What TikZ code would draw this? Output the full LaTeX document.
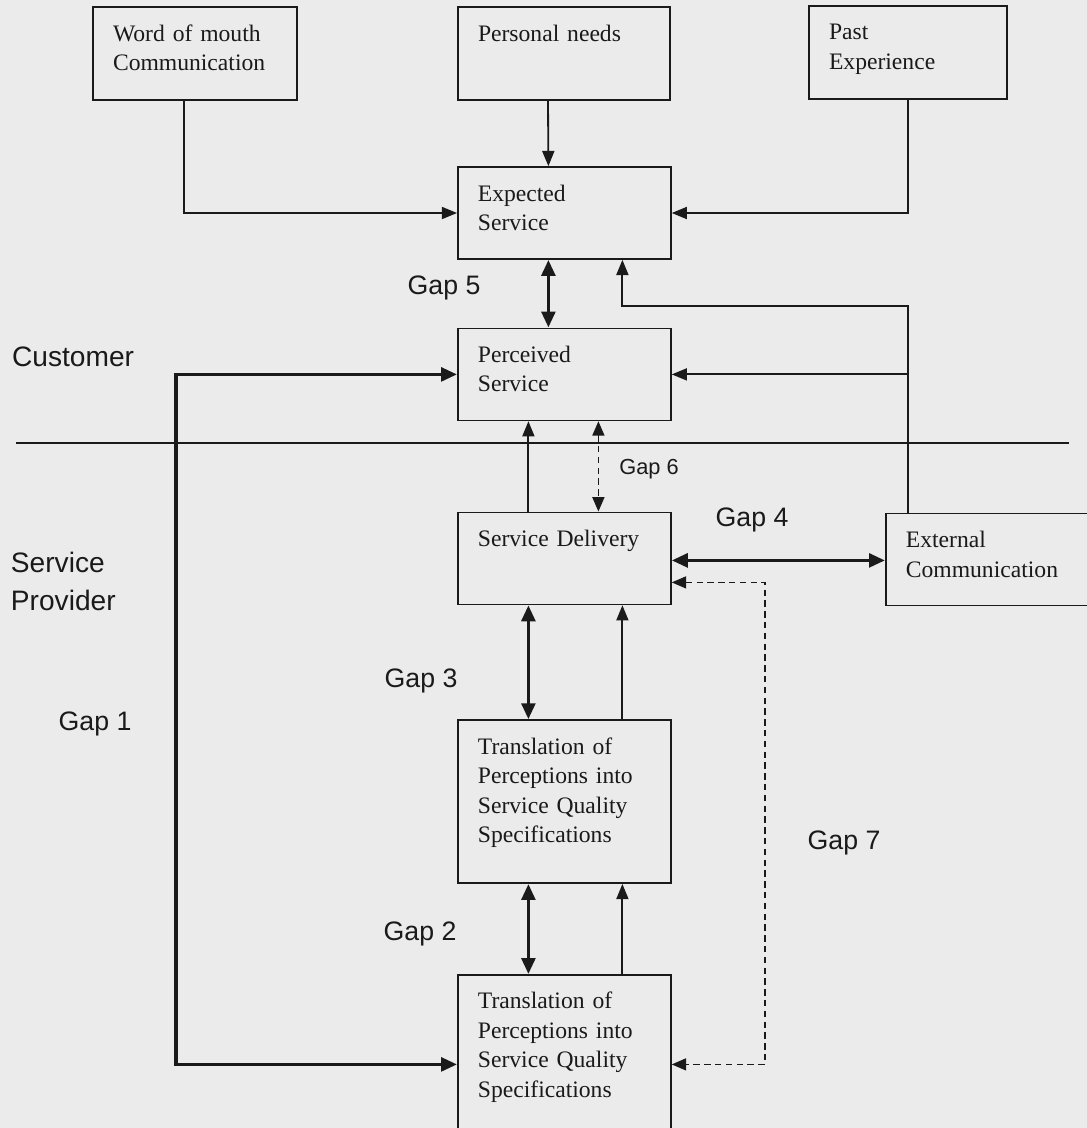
\documentclass[tikz,border=0pt]{standalone}
\usepackage{fontspec}
\setmainfont{Liberation Serif}
\newfontfamily\labelfont{Liberation Sans}
\usetikzlibrary{arrows.meta,calc}
\definecolor{ink}{HTML}{1A1A1A}
\definecolor{paper}{HTML}{EBEBEB}

\begin{document}
\begin{tikzpicture}[font=\fontsize{16.8}{21}\selectfont, text=ink,
  box/.style={draw=ink, line width=1.2pt, align=left, inner xsep=0.5cm, inner ysep=0.3cm, text height=0.55cm, text depth=#1},
  box/.default=1.15cm,
  side/.style={font=\labelfont\fontsize{20}{27}\selectfont, align=left},
  gap/.style={font=\labelfont\fontsize{19}{23}\selectfont},
  flow/.style={-{Triangle[length=0.38cm,width=0.3cm]}, line width=1.3pt, draw=ink},
  gapflow/.style={{Triangle[length=0.4cm,width=0.34cm]}-{Triangle[length=0.4cm,width=0.34cm]}, line width=2.6pt, draw=ink},
  dashflow/.style={{Triangle[length=0.36cm,width=0.3cm]}-{Triangle[length=0.36cm,width=0.3cm]}, line width=1.1pt, draw=ink, dash pattern=on 0.16cm off 0.11cm}]
  \useasboundingbox (0,0) rectangle (27.175,-28.2);
  \fill[paper] (0,0) rectangle (27.175,-28.2);
  % customer side
  \node[box=1.175cm, text width=4.1cm] (wom) at (4.875,-1.34) {Word of mouth\\Communication};
  \node[box=1.175cm, text width=4.3cm] (needs) at (14.1,-1.34) {Personal needs};
  \node[box=1.175cm, text width=3.95cm] (past) at (22.7,-1.31) {Past\\Experience};
  \node[box, text width=4.325cm] (expected) at (14.11,-5.325) {Expected\\Service};
  \node[box, text width=4.325cm] (perceived) at (14.11,-9.36) {Perceived\\Service};
  % provider side
  \node[box, text width=4.325cm] (delivery) at (14.11,-13.96) {Service Delivery};
  \node[box, text width=4.3cm, anchor=west] (external) at (22.125,-13.99) {External\\Communication};
  \node[box=2.925cm, text width=4.325cm] (trans1) at (14.11,-20.04) {Translation of\\Perceptions into\\Service Quality\\Specifications};
  \node[box=2.925cm, text width=4.325cm] (trans2) at (14.11,-26.41) {Translation of\\Perceptions into\\Service Quality\\Specifications};
  \node[side, anchor=west] (customer) at (0.18,-8.925) {Customer};
  \node[side, anchor=west] (provider) at (0.15,-14.525) {Service\\Provider};
  \draw[line width=0.9pt, draw=ink] (0.4,-11.075) -- (26.725,-11.075);
  \node[gap] (gap1) at (2.375,-18.1) {Gap 1};
  \node[gap] (gap2) at (10.5,-23.35) {Gap 2};
  \node[gap] (gap3) at (10.525,-17.025) {Gap 3};
  \node[gap] (gap4) at (18.8,-13.0) {Gap 4};
  \node[gap] (gap5) at (11.1,-7.2) {Gap 5};
  \node[gap, font=\labelfont\fontsize{15.5}{19}\selectfont] (gap6) at (16.225,-11.725) {Gap 6};
  \node[gap] (gap7) at (21.1,-21.075) {Gap 7};
  % expectations
  \draw[flow] ([xshift=-0.275cm]wom.south) |- (expected.west);
  \draw[flow] ([xshift=-0.4cm]needs.south) -- ([xshift=-0.4cm]expected.north);
  \draw[flow] (past.south) |- (expected.east);
  \coordinate (bend) at (15.56,-7.65);
  \draw[flow] (external.north -| past.south) |- (bend) -- (bend |- expected.south);
  \draw[flow] (perceived.east -| past.south) -- (perceived.east);
  \draw[gapflow] ([xshift=-0.4cm]expected.south) -- ([xshift=-0.4cm]perceived.north);
  \draw[flow] ([xshift=-0.9cm]delivery.north) -- ([xshift=-0.9cm]perceived.south);
  \draw[dashflow] ([xshift=0.85cm]perceived.south) -- ([xshift=0.85cm]delivery.north);
  \draw[gapflow] ([yshift=-0.05cm]delivery.east) -- ([yshift=-0.05cm]delivery.east -| external.west);
  \foreach \a/\b in {delivery/trans1, trans1/trans2} {
    \draw[gapflow] ([xshift=-0.9cm]\a.south) -- ([xshift=-0.9cm]\b.north);
    \draw[flow] ([xshift=1.45cm]\b.north) -- ([xshift=1.45cm]\a.south);
  }
  \coordinate (gapone) at (4.4,-20);
  \draw[gapflow] (perceived.west) -| (gapone) |- ([yshift=-0.2cm]trans2.west);
  \coordinate (gapseven) at (19.125,-20);
  \draw[dashflow] ([yshift=-0.6cm]delivery.east) -| (gapseven) |- ([yshift=-0.2cm]trans2.east);
\end{tikzpicture}
\end{document}
